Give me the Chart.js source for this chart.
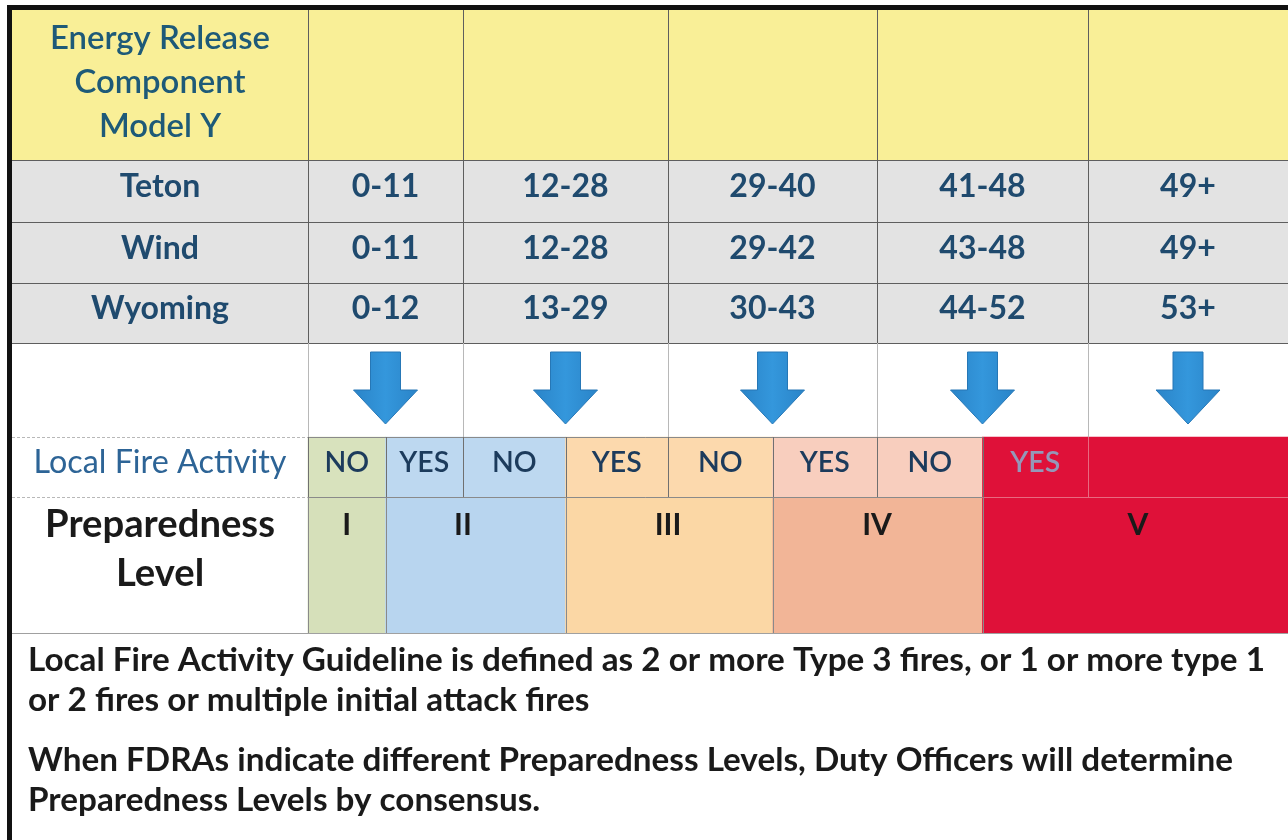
<!DOCTYPE html>
<html><head><meta charset="utf-8">
<script src="https://cdn.jsdelivr.net/npm/chart.js@4.4.1/dist/chart.umd.min.js"></script>
<style>html,body{margin:0;padding:0;background:#fff;overflow:hidden}canvas{display:block}</style>
</head><body>
<canvas id="c" width="1288" height="840"></canvas>
<script>
// ================= DATA =================
const headerTitle = ['Energy Release', 'Component', 'Model Y'];
const zones = ['Teton', 'Wind', 'Wyoming'];
const tetonErc = ['0-11', '12-28', '29-40', '41-48', '49+'];
const windErc = ['0-11', '12-28', '29-42', '43-48', '49+'];
const wyomingErc = ['0-12', '13-29', '30-43', '44-52', '53+'];
const fireActivityLabel = 'Local Fire Activity';
const fireActivity = ['NO', 'YES', 'NO', 'YES', 'NO', 'YES', 'NO', 'YES', ''];
const fireActivityStart = [1, 1.5, 2, 2.5, 3, 3.5, 4, 4.5, 5];
const fireActivityEnd = [1.5, 2, 2.5, 3, 3.5, 4, 4.5, 5, 6];
const levelLabel = ['Preparedness', 'Level'];
const levels = ['I', 'II', 'III', 'IV', 'V'];
const levelStart = [1, 1.5, 2.5, 3.5, 4.5];
const levelEnd = [1.5, 2.5, 3.5, 4.5, 6];
const notesGuideline = ['Local Fire Activity Guideline is defined as 2 or more Type 3 fires, or 1 or more type 1', 'or 2 fires or multiple initial attack fires'];
const notesConsensus = ['When FDRAs indicate different Preparedness Levels, Duty Officers will determine', 'Preparedness Levels by consensus.'];

// ================= LAYOUT / STYLE =================
const COL_W = [296, 155, 205, 209, 211, 200];
const ROW_H = [150, 62, 61, 60, 94, 60, 136];
const HEADER_FILL = '#f9ef97';
const ZONE_FILL = '#e3e3e3';
const LEVEL_FILL = ['#d6e0ba', '#b8d5ef', '#fbd7a5', '#f2b597', '#df1139'];
const FIRE_FILL = ['#d8e2bd', '#bdd8f0', '#fcd9ad', '#f8cebe', '#df1139'];
const FONT = 'Lato, "Open Sans", sans-serif';
const HEADER_COLOR = '#1e5a78';
const ZONE_COLOR = '#1f4a6e';
const FIRE_LABEL_COLOR = '#2d6496';
const YESNO_COLOR = '#1c3b5c';
const ONRED_COLOR = '#9597b8';

// piecewise linear scale: each unit interval has its own pixel weight
class PiecewiseScale extends Chart.LinearScale {
  _w() { return this.id === 'x' ? COL_W : ROW_H; }
  getPixelForValue(value) {
    const w = this._w();
    const total = w.reduce((a, b) => a + b, 0);
    const v = Math.max(0, Math.min(w.length, value));
    const i = Math.min(Math.floor(v), w.length - 1);
    let acc = 0;
    for (let k = 0; k < i; k++) acc += w[k];
    acc += (v - i) * w[i];
    const f = acc / total;
    return this.isHorizontal() ? this.left + f * this.width : this.top + f * this.height;
  }
  getValueForPixel(pixel) {
    const w = this._w();
    const total = w.reduce((a, b) => a + b, 0);
    const f = this.isHorizontal() ? (pixel - this.left) / this.width : (pixel - this.top) / this.height;
    let t = f * total, i = 0;
    while (i < w.length - 1 && t > w[i]) { t -= w[i]; i++; }
    return i + t / w[i];
  }
}
PiecewiseScale.id = 'piecewise';
PiecewiseScale.defaults = Chart.LinearScale.defaults;
Chart.register(PiecewiseScale);

function levelIndexFor(mid) {
  for (let i = 0; i < levels.length; i++) if (mid >= levelStart[i] && mid < levelEnd[i]) return i;
  return levels.length - 1;
}
const fireColors = fireActivityStart.map((s, i) => FIRE_FILL[levelIndexFor((s + fireActivityEnd[i]) / 2)]);

function spanData(starts, ends, row) { return starts.map((s, i) => ({ x: [s, ends[i]], y: row + 0.5 })); }

const datasets = [
  { label: 'Energy Release Component Model Y', data: [{ x: [0, 6], y: 0.5 }], backgroundColor: HEADER_FILL, barThickness: ROW_H[0] },
];
zones.forEach((z, i) => datasets.push({ label: z, data: [{ x: [0, 6], y: i + 1.5 }], backgroundColor: ZONE_FILL, barThickness: ROW_H[i + 1] }));
datasets.push({ label: fireActivityLabel, data: spanData(fireActivityStart, fireActivityEnd, 5), backgroundColor: fireColors, barThickness: ROW_H[5] });
datasets.push({ label: 'Preparedness Level', data: spanData(levelStart, levelEnd, 6), backgroundColor: LEVEL_FILL, barThickness: ROW_H[6] });
datasets.forEach(d => { d.grouped = false; d.borderWidth = 0; });

function fitSize(ctx, text, weight, target) {
  ctx.font = `${weight} 100px ${FONT}`;
  return 100 * target / ctx.measureText(text).width;
}
function text(ctx, s, x, y, size, weight, color, align) {
  ctx.font = `${weight} ${size}px ${FONT}`;
  ctx.fillStyle = color;
  ctx.textAlign = align || 'center';
  ctx.textBaseline = 'middle';
  ctx.fillText(s, x, y);
}
function hline(ctx, x1, x2, y, color, dash) {
  ctx.save(); ctx.strokeStyle = color; ctx.lineWidth = 1; if (dash) ctx.setLineDash(dash);
  ctx.beginPath(); ctx.moveTo(x1, Math.round(y) + 0.5); ctx.lineTo(x2, Math.round(y) + 0.5); ctx.stroke(); ctx.restore();
}
function vline(ctx, x, y1, y2, color) {
  ctx.save(); ctx.strokeStyle = color; ctx.lineWidth = 1;
  ctx.beginPath(); ctx.moveTo(Math.round(x) + 0.5, y1); ctx.lineTo(Math.round(x) + 0.5, y2); ctx.stroke(); ctx.restore();
}

const tablePlugin = {
  id: 'tablePlugin',
  afterDatasetsDraw(chart) {
    const ctx = chart.ctx;
    const X = v => chart.scales.x.getPixelForValue(v);
    const Y = v => chart.scales.y.getPixelForValue(v);
    const L = X(0), R = X(6);
    // grid lines
    const dark = '#5e5e5e', mid = '#8a8a8a', light = '#b8b8b8';
    for (let r = 1; r <= 4; r++) hline(ctx, L, R, Y(r), dark);
    for (let c = 1; c <= 5; c++) { vline(ctx, X(c), Y(0), Y(4), dark); vline(ctx, X(c), Y(4), Y(5), light); }
    hline(ctx, L, X(1), Y(5), light, [3, 2]);
    hline(ctx, X(1), X(4.5), Y(5), mid);
    hline(ctx, L, X(1), Y(6), light, [3, 2]);
    hline(ctx, X(1), X(4.5), Y(6), mid);
    hline(ctx, X(4.5), R, Y(6), '#e86a80');
    fireActivityStart.forEach((s, i) => vline(ctx, X(s), Y(5), Y(6), s >= 4.75 ? '#e86a80' : '#707070'));
    levelStart.forEach(s => vline(ctx, X(s), Y(6), Y(7), '#8a8a8a'));
    hline(ctx, L, R, Y(7), '#a0a0a0');

    // header text
    const hs = fitSize(ctx, headerTitle[0], 600, 220);
    headerTitle.forEach((t, i) => text(ctx, t, X(0.5), Y(0.5) - 3 + (i - 1) * 44, hs, 600, HEADER_COLOR));
    // zone rows
    const zs = fitSize(ctx, 'Wyoming', 700, 138);
    const ercRows = [tetonErc, windErc, wyomingErc];
    zones.forEach((z, i) => {
      const yc = Y(i + 1.5) - 4;
      text(ctx, z, X(0.5), yc, zs, 700, ZONE_COLOR);
      ercRows[i].forEach((v, c) => text(ctx, v, X(c + 1.5), yc, zs, 700, ZONE_COLOR));
    });
    // arrows
    for (let c = 1; c <= 5; c++) {
      const cx = X(c + 0.5), top = Y(4) + 9, neck = Y(4) + 47, tip = Y(4) + 81;
      const g = ctx.createLinearGradient(cx - 32, 0, cx + 32, 0);
      g.addColorStop(0, '#2a84c8'); g.addColorStop(0.5, '#3497dc'); g.addColorStop(1, '#2a84c8');
      ctx.save();
      ctx.beginPath();
      ctx.moveTo(cx - 15, top); ctx.lineTo(cx + 15, top); ctx.lineTo(cx + 15, neck); ctx.lineTo(cx + 32, neck);
      ctx.lineTo(cx, tip); ctx.lineTo(cx - 32, neck); ctx.lineTo(cx - 15, neck); ctx.closePath();
      ctx.fillStyle = g; ctx.fill();
      ctx.strokeStyle = '#2677b6'; ctx.lineWidth = 1; ctx.stroke();
      ctx.restore();
    }
    // local fire activity row
    const fl = fitSize(ctx, fireActivityLabel, 400, 253);
    text(ctx, fireActivityLabel, X(0.5), Y(5.5) - 4, fl, 400, FIRE_LABEL_COLOR);
    const ys = fitSize(ctx, 'YES', 600, 50);
    fireActivity.forEach((t, i) => {
      if (!t) return;
      const onRed = levelIndexFor((fireActivityStart[i] + fireActivityEnd[i]) / 2) === levels.length - 1;
      text(ctx, t, X((fireActivityStart[i] + fireActivityEnd[i]) / 2), Y(5.5) - 4, ys, 600, onRed ? ONRED_COLOR : YESNO_COLOR);
    });
    // preparedness row
    const ps = fitSize(ctx, levelLabel[0], 700, 230);
    text(ctx, levelLabel[0], X(0.5), Y(6) + 28, ps, 700, '#1a1a1a');
    text(ctx, levelLabel[1], X(0.5), Y(6) + 77, ps, 700, '#1a1a1a');
    levels.forEach((l, i) => text(ctx, l, X((levelStart[i] + levelEnd[i]) / 2), Y(6) + 28, 30, 700, '#1a1a1a'));
  },
  afterDraw(chart) {
    const ctx = chart.ctx;
    // thick frame
    ctx.fillStyle = '#111';
    ctx.fillRect(7, 5, 1288 - 7, 5);
    ctx.fillRect(7, 5, 5, 840 - 5);
    // notes
    const ns = fitSize(ctx, notesGuideline[0], 700, 1237);
    const ys = [660, 700, 760, 800];
    notesGuideline.concat(notesConsensus).forEach((t, i) => text(ctx, t, 28, ys[i], ns, 700, '#1a1a1a', 'left'));
  }
};

new Chart(document.getElementById('c'), {
  type: 'bar',
  data: { datasets },
  options: {
    indexAxis: 'y',
    responsive: false,
    animation: false,
    devicePixelRatio: 1,
    events: [],
    layout: { padding: { left: 12, top: 10, right: 0, bottom: 207 } },
    plugins: { legend: { display: false }, tooltip: { enabled: false }, title: { display: false } },
    scales: {
      x: { type: 'piecewise', min: 0, max: 6, display: false },
      y: { type: 'piecewise', min: 0, max: 7, display: false }
    }
  },
  plugins: [tablePlugin]
});
</script>
</body></html>
